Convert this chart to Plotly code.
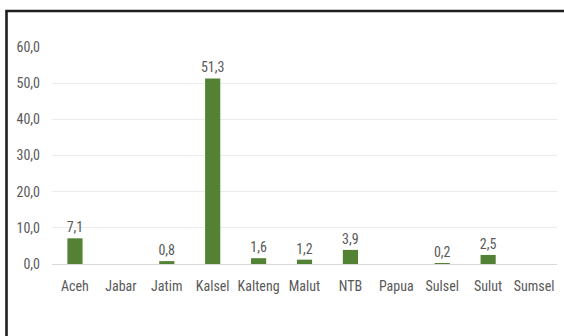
import plotly.graph_objects as go

# Provinces and their values
provinces = ["Aceh", "Jabar", "Jatim", "Kalsel", "Kalteng", "Malut",
             "NTB", "Papua", "Sulsel", "Sulut", "Sumsel"]
values = [7.1, None, 0.8, 51.3, 1.6, 1.2, 3.9, None, 0.2, 2.5, None]
y_ticks = [0, 10, 20, 30, 40, 50, 60]

labels = ["" if v is None else f"{v:.1f}".replace(".", ",") for v in values]

FONT = "Liberation Sans Narrow, Roboto Condensed, Arial Narrow, sans-serif"
GREY = "#595959"
SIZE = 14

fig = go.Figure(
    go.Bar(
        x=provinces,
        y=values,
        text=labels,
        textposition="outside",
        constraintext="none",
        textfont=dict(family=FONT, size=SIZE, color=GREY),
        cliponaxis=False,
        marker=dict(color="#548235", line=dict(width=0)),
        hoverinfo="x+y",
    )
)

# Plot area geometry in pixels, used to place the frame around the chart
W, H = 564, 336
L, R, T, B = 52, 7, 47, 72
pw, ph = W - L - R, H - T - B


def px_to_paper_x(px):
    return (px - L) / pw


def px_to_paper_y(py):
    return (H - B - py) / ph


fig.add_shape(
    type="rect", xref="paper", yref="paper",
    x0=px_to_paper_x(6.5), x1=px_to_paper_x(580),
    y0=px_to_paper_y(360), y1=px_to_paper_y(11),
    line=dict(color="#1e1e1e", width=2.6),
    fillcolor="rgba(0,0,0,0)",
    layer="above",
)

fig.update_layout(
    width=W, height=H,
    margin=dict(l=L, r=R, t=T, b=B),
    paper_bgcolor="white", plot_bgcolor="white",
    separators=",.",
    bargap=0.67,
    showlegend=False,
    font=dict(family=FONT, size=SIZE, color=GREY),
    xaxis=dict(
        showgrid=False, showline=False, ticks="",
        tickfont=dict(family=FONT, size=SIZE, color=GREY),
        ticklabelstandoff=12,
    ),
    yaxis=dict(
        range=[0, 60], tickvals=y_ticks, tickformat=".1f",
        showgrid=True, gridcolor="#ebebeb", gridwidth=1,
        zeroline=True, zerolinecolor="#d9d9d9", zerolinewidth=1,
        showline=False, ticks="",
        tickfont=dict(family=FONT, size=SIZE, color=GREY),
        ticklabelstandoff=11,
    ),
)

fig.write_html("out.html")
